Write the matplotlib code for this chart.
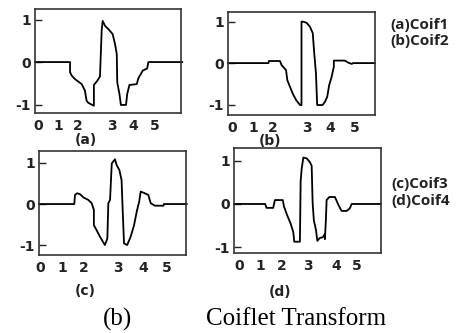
import matplotlib
matplotlib.use("Agg")
import matplotlib.pyplot as plt

# ---- data ----
tick_labels = ["0", "1", "2", "3", "4", "5"]
y_ticks = [-1, 0, 1]
y_tick_labels = ["-1", "0", "1"]

coif1_x = [0, 1.44, 1.44, 1.51, 1.64, 1.92, 2.05, 2.12, 2.19, 2.42, 2.42, 2.56, 2.67, 2.74,
           2.78, 2.88, 3.01, 3.19, 3.29, 3.36, 3.38, 3.47, 3.53, 3.74, 3.79, 3.88, 4.18,
           4.25, 4.43, 4.61, 4.66, 6.05]
coif1_y = [0, 0, -0.24, -0.32, -0.40, -0.52, -0.67, -0.91, -0.96, -1.03, -0.54, -0.44, -0.34,
           0.74, 0.97, 0.85, 0.78, 0.66, 0.42, 0.19, -0.48, -0.75, -1.01, -1.01, -0.75, -0.54,
           -0.52, -0.38, -0.20, -0.15, 0, 0]

coif2_x = [0, 1.65, 1.67, 2.12, 2.19, 2.37, 2.42, 2.53, 2.64, 2.78, 2.94, 3.0, 3.0, 3.05,
           3.21, 3.35, 3.46, 3.51, 3.59, 3.64, 3.86, 3.96, 4.05, 4.13, 4.23, 4.32, 4.32,
           4.77, 4.91, 5.05, 5.11, 6.0]
coif2_y = [0, 0, 0.05, 0.05, -0.05, -0.17, -0.41, -0.57, -0.73, -0.89, -1.01, -1.01, 1.0,
           1.0, 0.97, 0.87, 0.72, 0.31, -0.25, -1.01, -1.01, -0.93, -0.81, -0.53, -0.33,
           -0.09, 0.06, 0.06, 0.01, -0.02, 0, 0]

coif3_x = [0, 1.44, 1.47, 1.56, 1.67, 1.81, 2.01, 2.15, 2.24, 2.24, 2.35, 2.49, 2.69, 2.79,
           2.83, 2.90, 2.97, 3.10, 3.17, 3.28, 3.37, 3.41, 3.47, 3.60, 3.74, 3.88, 3.99,
           4.09, 4.15, 4.28, 4.46, 4.56, 4.73, 5.08, 5.10, 6.03]
coif3_y = [0, 0, 0.22, 0.26, 0.24, 0.16, 0.10, 0.02, -0.14, -0.51, -0.63, -0.79, -0.99,
           -0.83, 0.02, 0.10, 0.98, 1.08, 0.94, 0.82, 0.58, -0.06, -0.95, -0.99, -0.79, -0.51,
           -0.18, 0.06, 0.30, 0.27, 0.22, 0.02, -0.04, -0.04, 0, 0]

coif4_x = [0, 1.27, 1.33, 1.60, 1.67, 1.99, 2.04, 2.17, 2.31, 2.42, 2.46, 2.69, 2.72, 2.76,
           2.83, 2.97, 3.10, 3.17, 3.21, 3.26, 3.35, 3.40, 3.51, 3.62, 3.71, 3.71, 3.75,
           3.78, 3.89, 4.12, 4.26, 4.39, 4.60, 4.73, 4.80, 6.0]
coif4_y = [0, 0, -0.09, -0.09, 0.09, 0.09, -0.06, -0.26, -0.45, -0.65, -0.87, -0.87, 0.52,
           0.80, 1.07, 1.05, 0.96, 0.88, 0.02, -0.38, -0.61, -0.85, -0.78, -0.77, -0.69,
           -0.81, -0.38, 0.09, 0.16, 0.16, -0.02, -0.16, -0.16, -0.10, 0, 0]

panel_labels = ["(a)", "(b)", "(c)", "(d)"]
legend_top = ["(a)Coif1", "(b)Coif2"]
legend_bottom = ["(c)Coif3", "(d)Coif4"]
caption_left = "(b)"
caption_right = "Coiflet Transform"

# ---- layout ----
W, H = 470, 333
fig = plt.figure(figsize=(W / 100, H / 100), dpi=100)

def box(l, t, r, b):
    return [l / W, (H - b) / H, (r - l) / W, (b - t) / H]

panels = [
    dict(rect=box(35, 9, 181, 113), x=coif1_x, y=coif1_y, ylim=(-1.2, 1.25),
         xt=[0.12, 0.95, 1.77, 3.16, 4.03, 4.93], lab=(86, 140)),
    dict(rect=box(228, 12, 375, 115), x=coif2_x, y=coif2_y, ylim=(-1.25, 1.23),
         xt=[0.16, 1.02, 1.84, 3.22, 4.16, 5.18], lab=(270, 141)),
    dict(rect=box(39, 151, 186, 255), x=coif3_x, y=coif3_y, ylim=(-1.23, 1.28),
         xt=[0.04, 0.94, 1.84, 3.22, 4.24, 5.22], lab=(85, 291)),
    dict(rect=box(234, 148, 381, 253), x=coif4_x, y=coif4_y, ylim=(-1.13, 1.29),
         xt=[0.20, 1.06, 1.96, 3.02, 4.16, 5.02], lab=(280, 292)),
]

tick_font = dict(fontsize=10, fontweight="bold", family="DejaVu Sans", color="#222222")

for p, name in zip(panels, panel_labels):
    ax = fig.add_axes(p["rect"])
    ax.plot(p["x"], p["y"], color="black", lw=1.3, clip_on=False)
    ax.set_xlim(0, 6)
    ax.set_ylim(*p["ylim"])
    ax.set_xticks(p["xt"])
    ax.set_xticklabels(tick_labels, **tick_font)
    ax.set_yticks(y_ticks)
    ax.set_yticklabels(y_tick_labels, **tick_font)
    ax.tick_params(axis="x", length=0, pad=4)
    ax.tick_params(axis="y", direction="in", length=5, width=1, pad=3, color="#222222")
    for s in ax.spines.values():
        s.set_linewidth(1.2)
        s.set_color("#333333")
    fig.text(p["lab"][0] / W, 1 - p["lab"][1] / H, name, ha="center", va="center",
             fontsize=10, fontweight="bold", family="DejaVu Sans", color="#222222")

leg_font = dict(fontsize=11, fontweight="bold", family="Open Sans", color="#222222",
                ha="left", va="center")
fig.text(390 / W, 1 - 25 / H, legend_top[0], **leg_font)
fig.text(390 / W, 1 - 41 / H, legend_top[1], **leg_font)
fig.text(391 / W, 1 - 184 / H, legend_bottom[0], **leg_font)
fig.text(391 / W, 1 - 201 / H, legend_bottom[1], **leg_font)

cap_font = dict(fontsize=18, family="Liberation Serif", color="black", va="center")
fig.text(118 / W, 1 - 319 / H, caption_left, ha="center", **cap_font)
fig.text(296 / W, 1 - 319 / H, caption_right, ha="center", **cap_font)

fig.savefig("out.png", dpi=100, facecolor="white")
